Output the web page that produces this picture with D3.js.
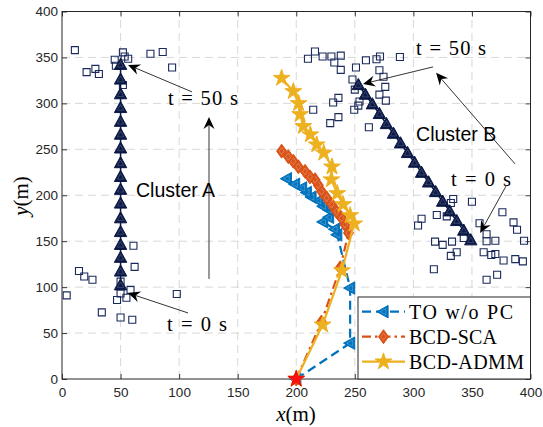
<!DOCTYPE html>
<html><head><meta charset="utf-8">
<script src="https://cdn.jsdelivr.net/npm/d3@7"></script>
<style>body{margin:0;background:#fff}svg{display:block}</style>
</head><body>
<script>
// ---------- data ----------
const xTicks = [0, 50, 100, 150, 200, 250, 300, 350, 400];
const yTicks = [0, 50, 100, 150, 200, 250, 300, 350, 400];

const usersA = [[11,358],[21,334],[28.5,337.5],[31.5,332],[45,347.5],[46,341],[52,355.5],[53.5,351],[56.5,348.5],[75.5,354],[86,356],[94,339],[52,320],
  [4,91],[14.5,117.5],[19,111.5],[26,108],[34,72.5],[50,67],[47,86],[55,88.5],[58.5,97],[50,93],[50,106],[60,64.5],[61,145],[62,122],[98,92.5]];
const usersB = [[210,348.5],[216,356.5],[222.5,351],[230,351],[238,352],[232.5,344.5],[238,336.5],[251,339],[259.5,347],[268.5,348],[271.5,351],[288.5,350.5],[271,336],[274.5,329],[248,326],[250,315],[276,318],[276.5,303],[271,309.5],[236,306],[231.5,301],[214.5,293],[236,285],[229,278.5],[254,302],[253,297.5],[249.5,293],[262,274],
  [334,196],[332,191.5],[350,193],[307,174.5],[304,167],[320,178.5],[328.5,177],[376,181.5],[385.5,170.5],[388.5,162.5],[356.5,169.5],[362.5,157.5],[362.5,150],[370,150.5],[394.5,150.5],[318.5,149.5],[325,146],[333,149.5],[343,153.5],[337,138],[332,134],[360,138],[366.5,135],[370,136],[377,129],[387,130.5],[393.5,128],[317.5,119.5],[362.5,108],[371.5,113.5]];

const pathA = [[50,102],[50,117],[50,132],[50,146],[50,160],[50,175],[50,191],[50,206],[50,220],[50,235],[50,251],[50,266],[50,280],[50,295],[50,310],[50,326],[50,342]];
const pathB = [[349,151],[343,161.5],[337,172],[331,182.5],[325,193],[319,203.5],[313,214],[307,224.5],[301,235.5],[295,246],[289,256.5],[283,267],[277,277.5],[271,288.5],[265,299],[259,309.5],[253,320]];

const seriesNames = ["TO w/o PC", "BCD-SCA", "BCD-ADMM"];
const trajTO = [[200,0],[246,39],[246,99],[235,157],[233,163],[223,171],[228,176],[228,184],[223,188],[219,194],[213,198],[209,203],[205,208],[199,212],[192,218]];
const trajSCA = [[200,0],[221.5,62],[237.5,121],[244.6,159],[241.6,168],[238.8,175],[234.5,182],[230.2,190],[226,197],[221.7,204],[218.8,211],[216,217],[211.7,220],[207.5,226],[201.8,231],[197.5,237],[193.2,242],[187.5,248]];
const trajADMM = [[200,0],[222.5,59],[239,118],[249.5,169],[246,178],[240,190],[235,202],[230,217],[230.5,231],[223.5,246],[217.5,255],[212,266],[206,275],[203.3,288],[202,300],[197.5,313],[187.5,327.5]];
const startPoint = [[200,0]];

const labelTexts = ["t = 50 s", "Cluster A", "t = 0 s", "t = 50 s", "Cluster B", "t = 0 s"];
const labelPos = [[90.5,298.3],[63.2,198.2],[89.7,52.3],[302.3,352.8],[302.3,259.1],[332.2,210.1]];
const arrowTail = [[111,312.5],[125.5,108.9],[107.6,71.9],[316.8,339.7],[386.8,234.1],[379.2,210.1]];
const arrowTip  = [[56.4,341.9],[125.5,285.3],[56.4,93.6],[257,321.2],[319.4,333.2],[357,159]];

// ---------- drawing ----------
const W = 543, H = 427;
const svg = d3.select("body").append("svg").attr("width", W).attr("height", H);
const x = d3.scaleLinear().domain([0,400]).range([62,530.5]);
const y = d3.scaleLinear().domain([0,400]).range([379,11.5]);
const axisCol = "#262626";
const sansF = "'Liberation Sans', Arial, Helvetica, sans-serif";
const serifF = "'Liberation Serif', 'Times New Roman', serif";

// grid
const grid = svg.append("g");
grid.selectAll(".gx").data(xTicks.slice(1,-1)).join("line")
  .attr("x1", d=>x(d)).attr("x2", d=>x(d)).attr("y1", y(0)).attr("y2", y(400))
  .attr("stroke", "#d4d4d4").attr("stroke-width", 0.9).attr("stroke-dasharray", "8,5");
grid.selectAll(".gy").data(yTicks.slice(1,-1)).join("line")
  .attr("y1", d=>y(d)).attr("y2", d=>y(d)).attr("x1", x(0)).attr("x2", x(400))
  .attr("stroke", "#d4d4d4").attr("stroke-width", 0.9).attr("stroke-dasharray", "8,5");

// axes
function styleAxis(g){
  g.selectAll("path.domain").remove();
  g.selectAll("line").attr("stroke", axisCol).attr("stroke-width", 0.9);
  g.selectAll("text").attr("fill", axisCol).style("font-family", sansF).style("font-size", "13.5px");
}
svg.append("g").attr("transform", `translate(0,${y(0)})`)
  .call(d3.axisBottom(x).tickValues(xTicks).tickSizeInner(-5).tickSizeOuter(0).tickPadding(8.5)).call(styleAxis);
svg.append("g").attr("transform", `translate(${x(0)},0)`)
  .call(d3.axisLeft(y).tickValues(yTicks).tickSizeInner(-5).tickSizeOuter(0).tickPadding(4)).call(styleAxis);
svg.append("g").attr("transform", `translate(0,${y(400)})`)
  .call(d3.axisTop(x).tickValues(xTicks).tickSizeInner(-5).tickSizeOuter(0).tickFormat("")).call(styleAxis);
svg.append("g").attr("transform", `translate(${x(400)},0)`)
  .call(d3.axisRight(y).tickValues(yTicks).tickSizeInner(-5).tickSizeOuter(0).tickFormat("")).call(styleAxis);
svg.append("rect").attr("x", x(0)).attr("y", y(400)).attr("width", x(400)-x(0)).attr("height", y(0)-y(400))
  .attr("fill", "none").attr("stroke", axisCol).attr("stroke-width", 1);

// marker shapes
function star(R){
  const r = R*0.382, pts=[];
  for(let i=0;i<10;i++){const a=-Math.PI/2+i*Math.PI/5, rr=i%2?r:R; pts.push([rr*Math.cos(a), rr*Math.sin(a)]);}
  return "M"+pts.map(p=>p[0].toFixed(2)+","+p[1].toFixed(2)).join("L")+"Z";
}
const shapes = {
  square: s=>`M${-3.5*s},${-3.5*s}h${7*s}v${7*s}h${-7*s}Z`,
  triUp: s=>`M0,${-6.6*s}L${6.2*s},${4.6*s}L${-6.2*s},${4.6*s}Z`,
  triLeft: s=>`M${-6.6*s},0L${4.6*s},${-6.2*s}L${4.6*s},${6.2*s}Z`,
  diamond: s=>`M0,${-7*s}L${5*s},0L0,${7*s}L${-5*s},0Z`,
  star: s=>star(8.8*s)
};
function drawMarkers(g, data, shape, color, opts={}){
  const grp = g.append("g");
  const sel = grp.selectAll("g").data(data).join("g").attr("transform", d=>`translate(${x(d[0])},${y(d[1])})`);
  sel.append("path").attr("d", shapes[shape](1))
    .attr("fill", opts.fill || "none").attr("stroke", color).attr("stroke-width", opts.sw || 1.2)
    .attr("stroke-linejoin", "miter");
  if(opts.inner){
    sel.append("path").attr("d", shapes[shape](0.5)).attr("fill", "none")
      .attr("stroke", `rgba(255,255,255,${opts.inner})`).attr("stroke-width", 0.6);
  }
  return grp;
}
const line = d3.line().x(d=>x(d[0])).y(d=>y(d[1]));
const plot = svg.append("g");

// users
drawMarkers(plot, usersA, "square", "#1b2a5c", {sw:1.1});
drawMarkers(plot, usersB, "square", "#1b2a5c", {sw:1.1});
// cluster trajectories
const navy = "#0a1845";
plot.append("path").attr("d", line(pathA)).attr("fill","none").attr("stroke", navy).attr("stroke-width", 1.5);
plot.append("path").attr("d", line(pathB)).attr("fill","none").attr("stroke", navy).attr("stroke-width", 1.5);
drawMarkers(plot, pathA, "triUp", navy, {fill:navy, sw:1, inner:0.3});
drawMarkers(plot, pathB, "triUp", navy, {fill:navy, sw:1, inner:0.3});

// UAV trajectories
const cBlue = "#0072BD", cOrange = "#D95319", cYellow = "#EDB120";
const styles = [
  {data: trajTO, color: cBlue, dash: "9,5", shape: "triLeft"},
  {data: trajSCA, color: cOrange, dash: "9,4,2.5,4", shape: "diamond"},
  {data: trajADMM, color: cYellow, dash: null, shape: "star"}
];
styles.forEach(s=>{
  plot.append("path").attr("d", line(s.data)).attr("fill","none").attr("stroke", s.color)
    .attr("stroke-width", 2.2).attr("stroke-dasharray", s.dash);
  drawMarkers(plot, s.data, s.shape, s.color, {fill:s.color, sw:1, inner: s.shape!=="star" ? 0.4 : 0});
});
drawMarkers(plot, startPoint, "star", "#e00000", {fill:"#ff1010", sw:0.8});

// annotations
const ann = svg.append("g");
labelTexts.forEach((t,i)=>{
  const isCluster = t.startsWith("Cluster");
  const el = ann.append("text").attr("x", x(labelPos[i][0])).attr("y", y(labelPos[i][1])).text(t)
    .attr("fill", "#000");
  if(isCluster){
    el.style("font-family", sansF).style("font-size", "19.5px");
  } else {
    el.style("font-family", serifF).style("font-size", "20.5px")
      .attr("textLength", t.includes("50") ? 70 : 60).attr("lengthAdjust", "spacing");
  }
});
arrowTail.forEach((tl,i)=>{
  const tp = arrowTip[i];
  const x0=x(tl[0]), y0=y(tl[1]), x1=x(tp[0]), y1=y(tp[1]);
  const dx=x1-x0, dy=y1-y0, len=Math.hypot(dx,dy), ux=dx/len, uy=dy/len, nx=-uy, ny=ux;
  const L=12, Wd=5.5, notch=4;
  ann.append("line").attr("x1",x0).attr("y1",y0).attr("x2",x1-(L-notch)*ux).attr("y2",y1-(L-notch)*uy)
    .attr("stroke","#000").attr("stroke-width",0.8);
  const p = [[x1,y1],[x1-L*ux+Wd*nx, y1-L*uy+Wd*ny],[x1-(L-notch)*ux, y1-(L-notch)*uy],[x1-L*ux-Wd*nx, y1-L*uy-Wd*ny]];
  ann.append("path").attr("d","M"+p.map(q=>q.join(",")).join("L")+"Z").attr("fill","#000");
});

// axis labels
const xl = svg.append("text").attr("x", 296).attr("y", 421).attr("text-anchor","middle")
  .style("font-family", serifF).style("font-size","21px").attr("fill","#000");
xl.append("tspan").style("font-style","italic").text("x");
xl.append("tspan").text("(m)");
const yl = svg.append("text").attr("transform","translate(28,196) rotate(-90)").attr("text-anchor","middle")
  .style("font-family", serifF).style("font-size","21px").attr("fill","#000");
yl.append("tspan").style("font-style","italic").text("y");
yl.append("tspan").text("(m)");

// legend
const lg = svg.append("g");
const lx0 = 358, ly0 = 297, lx1 = x(400), ly1 = y(0);
lg.append("rect").attr("x", lx0).attr("y", ly0).attr("width", lx1-lx0).attr("height", ly1-ly0)
  .attr("fill","#fff").attr("stroke", axisCol).attr("stroke-width", 1);
const rowsY = [311.7, 336.7, 361.7];
const textW = [104, 88, 115];
styles.forEach((s,i)=>{
  const ry = rowsY[i];
  lg.append("line").attr("x1", 362).attr("x2", 405).attr("y1", ry).attr("y2", ry)
    .attr("stroke", s.color).attr("stroke-width", 2.2).attr("stroke-dasharray", s.dash);
  const m = lg.append("g").attr("transform", `translate(383.5,${ry})`);
  m.append("path").attr("d", shapes[s.shape](1)).attr("fill", s.color).attr("stroke", s.color).attr("stroke-width",1);
  if(s.shape!=="star") m.append("path").attr("d", shapes[s.shape](0.5)).attr("fill","none").attr("stroke","rgba(255,255,255,0.4)").attr("stroke-width",0.6);
  lg.append("text").attr("x", 409).attr("y", ry+6.8).text(seriesNames[i])
    .style("font-family", serifF).style("font-size","20px").attr("fill","#000")
    .attr("textLength", textW[i]).attr("lengthAdjust","spacing");
});
</script>
</body></html>
